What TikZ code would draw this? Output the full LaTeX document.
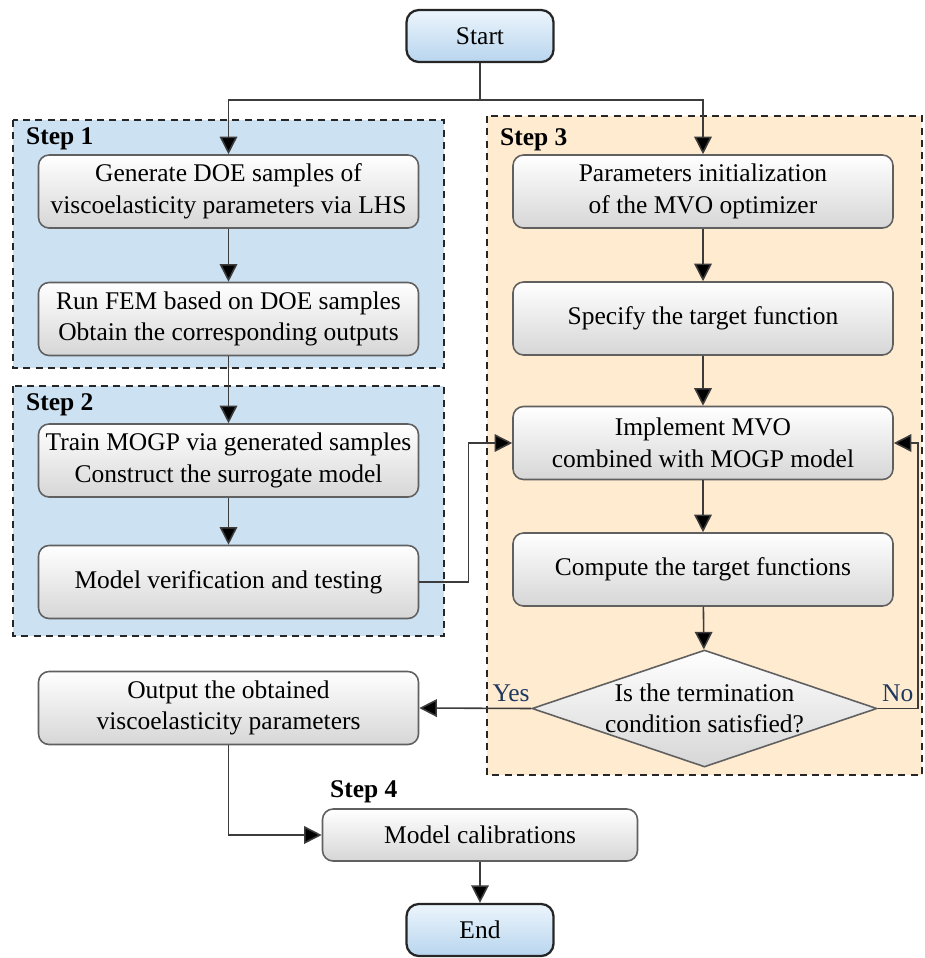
\documentclass[tikz,border=0pt]{standalone}
\usepackage{fontspec}
\setmainfont{Liberation Serif}
\usepackage{tikz}
\usetikzlibrary{arrows.meta, positioning, shapes.geometric, backgrounds}
\definecolor{stepblue}{RGB}{204, 225, 242}
\definecolor{steporange}{RGB}{255, 235, 208}
\definecolor{boxedge}{RGB}{96, 96, 96}
\definecolor{termtop}{RGB}{236, 245, 252}
\definecolor{termbot}{RGB}{184, 213, 238}
\definecolor{linegray}{RGB}{60, 60, 60}
\definecolor{labelblue}{RGB}{31, 56, 96}

\begin{document}
\begin{tikzpicture}[
      proc/.style={draw=boxedge, line width=0.9pt, rounded corners=6pt,
                   top color=white, bottom color=black!16,
                   minimum width=7.6cm, minimum height=1.46cm, align=center,
                   font=\fontsize{14.5}{18}\selectfont},
      term/.style={draw=black!85, line width=1.3pt, rounded corners=7pt,
                   top color=termtop, bottom color=termbot,
                   minimum width=2.94cm, minimum height=1.04cm,
                   font=\fontsize{14.5}{18}\selectfont},
      decision/.style={diamond, draw=boxedge, line width=0.9pt, inner sep=0pt,
                   top color=white, bottom color=black!16,
                   minimum width=6.9cm, minimum height=2.34cm},
      region/.style={draw=black!85, line width=1.1pt, dash pattern=on 4pt off 3pt},
      steplabel/.style={anchor=west, font=\fontsize{14.5}{18}\selectfont\bfseries},
      arr/.style={-{Triangle[length=10pt, width=10pt, fill=black]}, draw=linegray, line width=0.9pt},
      yesno/.style={text=labelblue, font=\fontsize{14.5}{18}\selectfont}
    ]
      \useasboundingbox (0,0) rectangle (18.5,-19.16);

      % step regions
      \draw[region, fill=stepblue] (0.26,-2.40) rectangle (8.88,-7.36);
      \draw[region, fill=stepblue] (0.26,-7.72) rectangle (8.88,-12.72);
      \draw[region, fill=steporange] (9.74,-2.32) rectangle (18.44,-15.5);
      \node[steplabel] (lab1) at (0.40,-2.78) {Step 1};
      \node[steplabel] (lab2) at (0.40,-8.10) {Step 2};
      \node[steplabel] (lab3) at (9.88,-2.80) {Step 3};
      \node[steplabel] (lab4) at (6.48,-15.84) {Step 4};

      % nodes
      \node[term] (start) at (9.6,-0.72) {Start};
      \node[proc] (gen) at (4.57,-3.83) {Generate DOE samples of\\viscoelasticity parameters via LHS};
      \node[proc] (fem) at (4.57,-6.38) {Run FEM based on DOE samples\\Obtain the corresponding outputs};
      \node[proc] (train) at (4.57,-9.21) {Train MOGP via generated samples\\Construct the surrogate model};
      \node[proc] (verify) at (4.57,-11.64) {Model verification and testing};
      \node[proc] (init) at (14.06,-3.83) {Parameters initialization\\of the MVO optimizer};
      \node[proc] (target) at (14.06,-6.37) {Specify the target function};
      \node[proc] (mvo) at (14.06,-8.86) {Implement MVO\\combined with MOGP model};
      \node[proc] (compute) at (14.06,-11.39) {Compute the target functions};
      \node[decision, label={[align=center, font=\fontsize{14.5}{18}\selectfont]center:Is the termination\\condition satisfied?}] (cond) at (14.09,-14.17) {};
      \node[proc] (output) at (4.57,-14.16) {Output the obtained\\viscoelasticity parameters};
      \node[proc, minimum width=6.3cm, minimum height=1.04cm] (calib) at (9.6,-16.7) {Model calibrations};
      \node[term] (end) at (9.6,-18.6) {End};

      % connectors
      \coordinate (split) at (9.6,-2.0);
      \draw[arr] (start.south) -- (split) -| (gen.north);
      \draw[arr] (split) -| (init.north);
      \draw[arr] (gen) -- (fem);
      \draw[arr] (fem) -- (train);
      \draw[arr] (train) -- (verify);
      \draw[arr] (verify.east) -- ++(0.98,0) |- (mvo.west);
      \draw[arr] (init) -- (target);
      \draw[arr] (target) -- (mvo);
      \draw[arr] (mvo) -- (compute);
      \draw[arr] (compute) -- (cond);
      \draw[arr] (cond.east) -- node[yesno, above] {No} ++(0.8,0) |- (mvo.east);
      \draw[arr] (cond.west) -- node[yesno, above, pos=0.18] {Yes} (output.east);
      \draw[arr] (output.south) |- (calib.west);
      \draw[arr] (calib) -- (end);
    \end{tikzpicture}
\end{document}
